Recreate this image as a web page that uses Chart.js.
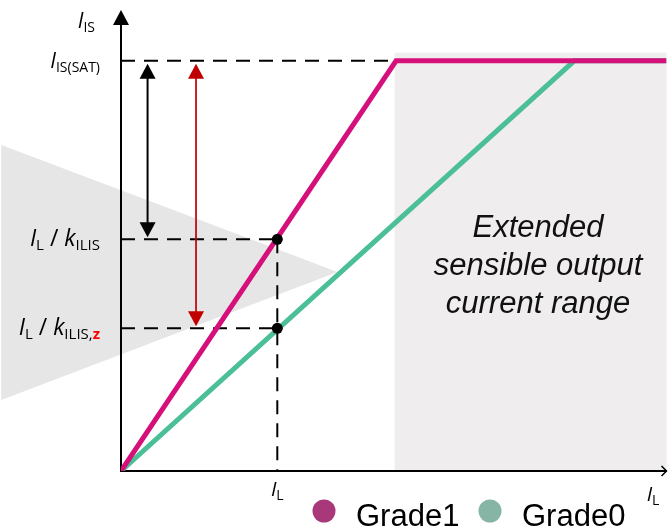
<!DOCTYPE html>
<html>
<head>
<meta charset="utf-8">
<script src="https://cdn.jsdelivr.net/npm/chart.js@4/dist/chart.umd.min.js"></script>
<style>
  html, body { margin: 0; padding: 0; background: #fff; }
  #wrap { width: 672px; height: 527px; position: relative; }
</style>
</head>
<body>
<div id="wrap"><canvas id="c"></canvas></div>
<script>
/* ---------- values (x in units of I_L, y in units of I_IS(SAT)) ---------- */
const seriesLabels = ["Grade1", "Grade0"];
const grade1X = [0, 1.76, 3.49];
const grade1Y = [0, 1, 1];
const grade0X = [0, 2.9, 3.49];
const grade0Y = [0, 1, 1];
const markX = [1, 1];            // I_L
const markY = [0.565, 0.348];    // I_L / kILIS , I_L / kILIS,z
const satLevel = 1;
const xMax = 3.49;
const yMax = 1.124;
const extendedFrom = 1.75;       // start of extended range
const extendedTop = 1.02;
const arrowX = [0.17, 0.48];     // black and red range arrows
const funnelX = [-0.766, -0.766, 1.386];
const funnelY = [0.795, 0.173, 0.485];

const lineColors = ["#d6107a", "#4bbf96"];
const legendColors = ["#a8387a", "#86b5a6"];
const LBL = "'Open Sans', 'Noto Sans', sans-serif";
const ARIAL = "'Liberation Sans', Arial, sans-serif";

const toPts = (xs, ys) => xs.map((x, i) => ({ x, y: ys[i] }));

/* ---------- helpers ---------- */
function runs(ctx, parts, x, y, align) {
  // parts: [text, size, italic, sub, color, bold]
  const fnt = p => `${p[2] ? "italic " : ""}${p[5] ? "bold " : ""}${p[1]}px ${LBL}`;
  let w = 0;
  parts.forEach(p => { ctx.font = fnt(p); w += ctx.measureText(p[0]).width; });
  let cx = align === "right" ? x - w : align === "center" ? x - w / 2 : x;
  ctx.textBaseline = "alphabetic";
  ctx.textAlign = "left";
  parts.forEach(p => {
    ctx.font = fnt(p);
    ctx.fillStyle = p[4] || "#000";
    ctx.fillText(p[0], cx, y + (p[3] ? 4 : 0));
    cx += ctx.measureText(p[0]).width;
  });
}

function arrowHead(ctx, x, y, dir, color) {
  // dir: 1 = pointing down, -1 = pointing up
  ctx.fillStyle = color;
  ctx.beginPath();
  ctx.moveTo(x, y);
  ctx.lineTo(x - 8, y - dir * 15);
  ctx.lineTo(x + 8, y - dir * 15);
  ctx.closePath();
  ctx.fill();
}

function dashed(ctx, x1, y1, x2, y2) {
  ctx.save();
  ctx.strokeStyle = "#000";
  ctx.lineWidth = 2;
  ctx.setLineDash([14, 9]);
  ctx.beginPath();
  ctx.moveTo(x1, y1);
  ctx.lineTo(x2, y2);
  ctx.stroke();
  ctx.restore();
}

/* ---------- background: extended range + funnel + dashed guides + axes ---------- */
const backdrop = {
  id: "backdrop",
  beforeDatasetsDraw(chart) {
    const { ctx, scales: { x, y } } = chart;
    ctx.save();
    // extended range
    ctx.fillStyle = "#efedee";
    const ex = x.getPixelForValue(extendedFrom), et = y.getPixelForValue(extendedTop);
    ctx.fillRect(ex, et, x.getPixelForValue(xMax) - ex, y.getPixelForValue(0) - et);

    // grey funnel
    ctx.fillStyle = "#e7e6e6";
    ctx.beginPath();
    funnelX.forEach((v, i) => {
      const px = x.getPixelForValue(v), py = y.getPixelForValue(funnelY[i]);
      i ? ctx.lineTo(px, py) : ctx.moveTo(px, py);
    });
    ctx.closePath();
    ctx.fill();

    // dashed guides
    const x0 = x.getPixelForValue(0), y0 = y.getPixelForValue(0);
    const yS = y.getPixelForValue(satLevel);
    dashed(ctx, x0, yS, x.getPixelForValue(grade1X[1]), yS);
    markY.forEach((v, i) => {
      const py = y.getPixelForValue(v);
      dashed(ctx, x0, py, x.getPixelForValue(markX[i]), py);
    });
    dashed(ctx, x.getPixelForValue(markX[0]), y.getPixelForValue(markY[0]), x.getPixelForValue(markX[0]), y0);

    // axes
    ctx.strokeStyle = "#000";
    ctx.lineWidth = 2;
    ctx.beginPath();
    ctx.moveTo(x0, y0); ctx.lineTo(x0, y.getPixelForValue(yMax) + 10);
    ctx.moveTo(x0 - 1, y0); ctx.lineTo(x.getPixelForValue(xMax), y0);
    ctx.stroke();
    arrowHead(ctx, x0, y.getPixelForValue(yMax), -1, "#000");
    ctx.lineWidth = 1.5;
    ctx.beginPath();
    ctx.moveTo(x.getPixelForValue(xMax) - 5, y0 - 5);
    ctx.lineTo(x.getPixelForValue(xMax), y0);
    ctx.lineTo(x.getPixelForValue(xMax) - 5, y0 + 5);
    ctx.stroke();
    ctx.restore();
  },

  afterDatasetsDraw(chart) {
    const { ctx, scales: { x, y } } = chart;
    ctx.save();
    // range arrows from saturation down to each level
    const cols = ["#000", "#c00000"];
    arrowX.forEach((v, i) => {
      const px = x.getPixelForValue(v);
      const top = y.getPixelForValue(satLevel) + 3;
      const bot = y.getPixelForValue(markY[i]) - 2;
      ctx.strokeStyle = cols[i];
      ctx.lineWidth = i ? 1.7 : 2;
      ctx.beginPath();
      ctx.moveTo(px, top + 10); ctx.lineTo(px, bot - 10);
      ctx.stroke();
      arrowHead(ctx, px, top, -1, cols[i]);
      arrowHead(ctx, px, bot, 1, cols[i]);
    });

    // axis and level labels
    const lx = x.getPixelForValue(0) - 21;
    runs(ctx, [["I", 21, true], ["IS", 14, false, true]], lx - 5, 28, "right");
    runs(ctx, [["I", 21, true], ["IS(SAT)", 14, false, true]], lx, 68, "right");
    runs(ctx, [["I", 23, true], ["L", 15, false, true], [" / ", 23], ["k", 23, true], ["ILIS", 15, false, true]],
      lx, y.getPixelForValue(markY[0]) + 7, "right");
    runs(ctx, [["I", 23, true], ["L", 15, false, true], [" / ", 23], ["k", 23, true], ["ILIS,", 15, false, true],
      ["z", 15, false, true, "#ff0000", true]], lx, y.getPixelForValue(markY[1]) + 7, "right");
    runs(ctx, [["I", 20, true], ["L", 14, false, true]], x.getPixelForValue(markX[0]), 496, "center");
    runs(ctx, [["I", 20, true], ["L", 14, false, true]], 653, 501, "center");

    // extended range caption
    ctx.font = `italic 31px ${ARIAL}`;
    ctx.fillStyle = "#111";
    ctx.textAlign = "center";
    ctx.textBaseline = "alphabetic";
    ["Extended", "sensible output", "current range"].forEach((t, i) => ctx.fillText(t, 538, 237 + i * 38));

    // legend
    ctx.font = `31px ${ARIAL}`;
    ctx.textAlign = "left";
    const lgX = [324, 490];
    seriesLabels.forEach((t, i) => {
      ctx.fillStyle = legendColors[i];
      ctx.beginPath();
      ctx.arc(lgX[i], 511, 11.5, 0, Math.PI * 2);
      ctx.fill();
      ctx.fillStyle = "#000";
      ctx.fillText(t, lgX[i] + 32, 526);
    });
    ctx.restore();
  }
};

new Chart(document.getElementById("c"), {
  type: "line",
  data: {
    datasets: [
      { label: seriesLabels[0], data: toPts(grade1X, grade1Y), borderColor: lineColors[0],
        borderWidth: 5, pointRadius: 0, tension: 0, order: 2 },
      { label: seriesLabels[1], data: toPts(grade0X, grade0Y), borderColor: lineColors[1],
        borderWidth: 5, pointRadius: 0, tension: 0, order: 3 },
      { label: "marks", data: toPts(markX, markY), showLine: false, pointRadius: 5.5,
        pointBackgroundColor: "#000", pointBorderWidth: 0, order: 1 }
    ]
  },
  options: {
    responsive: true,
    maintainAspectRatio: false,
    animation: false,
    layout: { padding: { left: 121, right: 0, top: 10, bottom: 56 } },
    plugins: { legend: { display: false }, tooltip: { enabled: false } },
    scales: {
      x: { type: "linear", min: 0, max: xMax, display: false },
      y: { min: 0, max: yMax, display: false }
    }
  },
  plugins: [backdrop]
});
</script>
</body>
</html>
